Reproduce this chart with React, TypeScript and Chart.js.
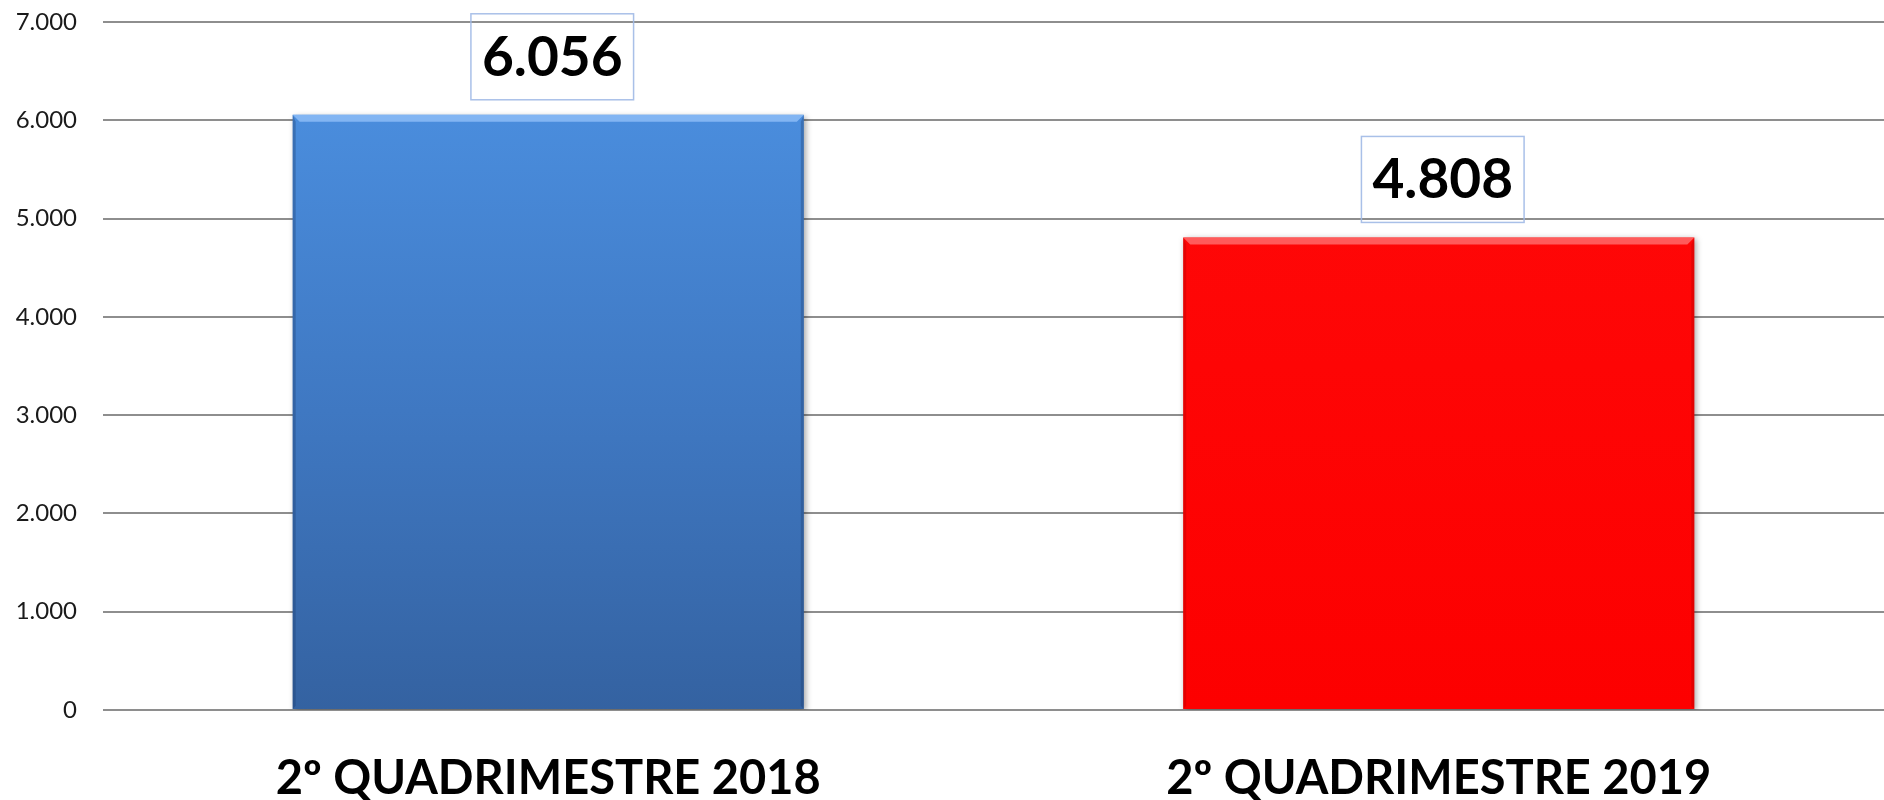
import React, { useEffect, useRef } from "react";
import { Chart, registerables } from "chart.js";

Chart.register(...registerables);

const categories = ["2º QUADRIMESTRE 2018", "2º QUADRIMESTRE 2019"];
const values = [6056, 4808];
const yMin = 0;
const yMax = 7000;
const yStep = 1000;

const fmt = (v: number) => {
  const s = Math.round(v).toString();
  return s.replace(/\B(?=(\d{3})+(?!\d))/g, ".");
};

const barShadow = {
  id: "barShadow",
  beforeDatasetsDraw(chart: any) {
    const ctx = chart.ctx;
    ctx.save();
    ctx.shadowColor = "rgba(0,0,0,0.35)";
    ctx.shadowBlur = 6;
    ctx.shadowOffsetX = 2;
    ctx.shadowOffsetY = 2;
  },
  afterDatasetsDraw(chart: any) {
    const ctx = chart.ctx;
    ctx.restore();
    const meta = chart.getDatasetMeta(0);
    const hl = ["rgba(150,195,250,0.75)", "rgba(255,120,120,0.75)"];
    const dk = ["rgba(30,60,110,0.35)", "rgba(150,0,0,0.25)"];
    meta.data.forEach((bar: any, i: number) => {
      const { x, y, base, width } = bar.getProps(["x", "y", "base", "width"], true);
      const x0 = x - width / 2;
      const x1 = x + width / 2;
      const b = 7;
      ctx.save();
      ctx.fillStyle = hl[i];
      ctx.beginPath();
      ctx.moveTo(x0, y);
      ctx.lineTo(x1, y);
      ctx.lineTo(x1 - b, y + b);
      ctx.lineTo(x0 + b, y + b);
      ctx.closePath();
      ctx.fill();
      ctx.fillStyle = dk[i];
      ctx.beginPath();
      ctx.moveTo(x1, y);
      ctx.lineTo(x1, base);
      ctx.lineTo(x1 - 3, base - 3);
      ctx.lineTo(x1 - 3, y + b);
      ctx.closePath();
      ctx.fill();
      ctx.beginPath();
      ctx.moveTo(x0, y);
      ctx.lineTo(x0 + 3, y + b);
      ctx.lineTo(x0 + 3, base - 3);
      ctx.lineTo(x0, base);
      ctx.closePath();
      ctx.fill();
      ctx.restore();
    });
  },
};

const valueLabels = {
  id: "valueLabels",
  afterDraw(chart: any) {
    const ctx = chart.ctx;
    const meta = chart.getDatasetMeta(0);
    meta.data.forEach((bar: any, i: number) => {
      const { x, y } = bar.getProps(["x", "y"], true);
      const text = fmt(values[i]);
      ctx.save();
      ctx.font = "bold 55px Lato";
      const w = ctx.measureText(text).width;
      const boxW = w + 22;
      const boxH = 86;
      const boxBottom = y - 15;
      const boxTop = boxBottom - boxH;
      const cx = x + 4;
      ctx.strokeStyle = "rgba(160,185,230,0.9)";
      ctx.lineWidth = 1.5;
      ctx.strokeRect(cx - boxW / 2, boxTop, boxW, boxH);
      ctx.fillStyle = "#000";
      ctx.textAlign = "center";
      ctx.textBaseline = "middle";
      ctx.fillText(text, cx, boxTop + boxH / 2 + 1);
      ctx.restore();
    });
  },
};

export default function App() {
  const ref = useRef<HTMLCanvasElement | null>(null);
  useEffect(() => {
    document.body.style.margin = "0";
    const canvas = ref.current!;
    const chart = new Chart(canvas, {
      type: "bar",
      data: {
        labels: categories,
        datasets: [
          {
            data: values,
            backgroundColor: (c: any) => {
              const ch = c.chart;
              const area = ch.chartArea;
              if (!area) return "#3f7ac4";
              if (c.dataIndex === 1) {
                const g = ch.ctx.createLinearGradient(0, area.top, 0, area.bottom);
                g.addColorStop(0, "#ff0a0a");
                g.addColorStop(1, "#fd0000");
                return g;
              }
              const g = ch.ctx.createLinearGradient(0, area.top + 90, 0, area.bottom);
              g.addColorStop(0, "#4a8ddd");
              g.addColorStop(0.5, "#3f78c2");
              g.addColorStop(1, "#3462a1");
              return g;
            },
            borderWidth: 0,
            barPercentage: 0.574,
            categoryPercentage: 1,
          },
        ],
      },
      options: {
        animation: false,
        responsive: true,
        maintainAspectRatio: false,
        layout: { padding: { top: 22, left: 0, right: 0, bottom: 0 } },
        plugins: {
          legend: { display: false },
          tooltip: { enabled: false },
        },
        scales: {
          x: {
            grid: { display: false, drawTicks: false },
            border: { display: false },
            ticks: {
              color: "#000",
              font: { family: "Lato", size: 47, weight: "bold" },
              padding: 41,
            },
            afterFit: (s: any) => {
              s.height = 90;
            },
          },
          y: {
            min: yMin,
            max: yMax,
            grid: { color: "#8e8e8e", lineWidth: 2, drawTicks: false },
            border: { display: false },
            ticks: {
              stepSize: yStep,
              color: "#1a1a1a",
              font: { family: "Lato", size: 24 },
              padding: 26,
              callback: (v: any) => fmt(Number(v)),
            },
            afterFit: (s: any) => {
              s.width = 103;
              s.paddingTop = 0;
              s.paddingBottom = 0;
            },
          },
        },
      },
      plugins: [barShadow, valueLabels],
    });
    return () => chart.destroy();
  }, []);
  return (
    <div style={{ position: "relative", width: 1884, height: 800 }}>
      <canvas ref={ref} />
    </div>
  );
}
